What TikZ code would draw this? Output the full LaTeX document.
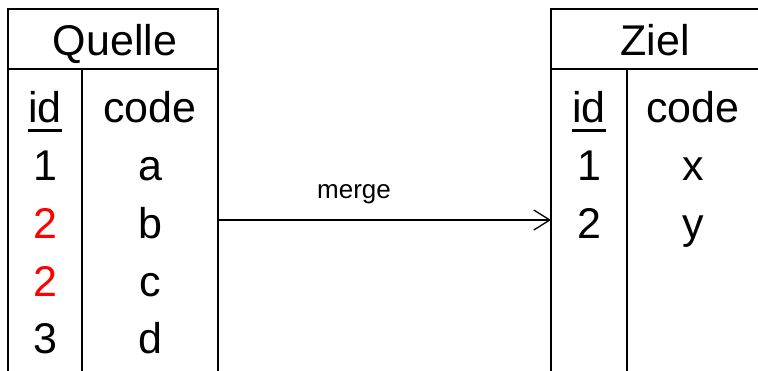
\documentclass[tikz,border=0pt]{standalone}
\usepackage{fontspec}
\setmainfont{Liberation Sans}
\usetikzlibrary{arrows.meta}
\begin{document}
\begin{tikzpicture}[x=1pt,y=-1pt,
  tline/.style={line width=1.6pt},
  cell/.style={inner sep=0pt,anchor=base,font=\fontsize{43}{50}\selectfont},
  redcell/.style={cell,text=red},
  ul/.style={line width=3pt},
  flow/.style={line width=1.3pt,-{Straight Barb[length=16pt,width=20pt,line width=1.3pt]}},
  lbl/.style={inner sep=0pt,anchor=base,font=\fontsize{26}{30}\selectfont}]
\clip (0,0) rectangle (758,370);
% left table
\draw[tline] (8,400) -- (8,9) -- (218,9) -- (218,400);
\draw[tline] (8,69) -- (218,69);
\draw[tline] (82,69) -- (82,400);
% right table
\draw[tline] (551,400) -- (551,9) -- (775,9);
\draw[tline] (551,69) -- (775,69);
\draw[tline] (627,69) -- (627,400);
% headers
\node[cell] (hq) at (115,55) {Quelle};
\node[cell] (hz) at (655,55) {Ziel};
% left columns
\node[cell] (qid) at (45,122) {id};
\node[cell] (qcode) at (150,122) {code};
\node[cell] (q1) at (45,180) {1};
\node[cell] (qa) at (150,180) {a};
\node[redcell] (q2) at (45,238) {2};
\node[cell] (qb) at (150,238) {b};
\node[redcell] (q3) at (45,296) {2};
\node[cell] (qc) at (150,296) {c};
\node[cell] (q4) at (45,353) {3};
\node[cell] (qd) at (150,353) {d};
\draw[ul] ([yshift=-8.7pt]qid.base west) -- ([yshift=-8.7pt]qid.base east);
% right columns
\node[cell] (zid) at (589,122) {id};
\node[cell] (zcode) at (693,122) {code};
\node[cell] (z1) at (589,180) {1};
\node[cell] (zx) at (693,180) {x};
\node[cell] (z2) at (589,238) {2};
\node[cell] (zy) at (693,238) {y};
\draw[ul] ([yshift=-8.7pt]zid.base west) -- ([yshift=-8.7pt]zid.base east);
% arrow
\coordinate (src) at (218,220);
\coordinate (dst) at (551,220);
\draw[flow] (src) -- (dst);
\node[lbl] (m) at (354,198) {merge};
\end{tikzpicture}
\end{document}
